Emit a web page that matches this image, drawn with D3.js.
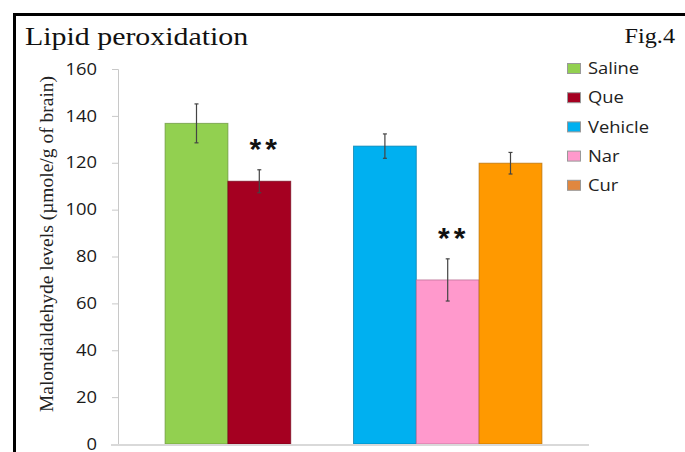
<!DOCTYPE html>
<html>
<head>
<meta charset="utf-8">
<script src="https://cdn.jsdelivr.net/npm/d3@7"></script>
<style>
  body { margin: 0; background: #fff; }
  svg { display: block; }
</style>
</head>
<body>
<div id="chart"></div>
<script>
// chart data
var groups = [["Saline", "Que"], ["Vehicle", "Nar", "Cur"]];
var seriesNames = ["Saline", "Que", "Vehicle", "Nar", "Cur"];
var means = [136.8, 112.1, 127.1, 70.0, 119.8];
var errors = [8.3, 4.9, 5.2, 9.0, 4.6];
var significant = [false, true, false, true, false];
var barColors = ["#92D050", "#A50021", "#00B0F0", "#FF99CC", "#FF9900"];
var legendColors = ["#92D050", "#A50021", "#00B0F0", "#FF99CC", "#E0873F"];
var yTicks = [0, 20, 40, 60, 80, 100, 120, 140, 160];

var svgWidth = 685;
var svgHeight = 452;

// plot area edges
var margin = { top: 69, right: 96, bottom: 8, left: 118 };
var width = svgWidth - margin.left - margin.right;
var height = svgHeight - margin.top - margin.bottom;

// text in the original is a bit wide, stretch it horizontally
var stretch = 1.15;

var svg = d3.select("#chart")
  .append("svg")
  .attr("width", svgWidth)
  .attr("height", svgHeight);

// frame (left and top edges only)
svg.append("path")
  .attr("d", "M14.5," + svgHeight + "V14.5H" + svgWidth)
  .attr("fill", "none")
  .attr("stroke", "#000")
  .attr("stroke-width", 3);

var chartGroup = svg.append("g")
  .attr("transform", `translate(${margin.left}, ${margin.top})`);

// slot per series, one empty slot between groups
var slots = [];
var slotCount = 0;
groups.forEach(function(g, gi) {
  if (gi > 0) slotCount++;
  g.forEach(function() { slots.push(slotCount); slotCount++; });
});

var data = seriesNames.map(function(name, i) {
  return { name: name, mean: means[i], err: errors[i], sig: significant[i],
           color: barColors[i], slot: slots[i] };
});

var xScale = d3.scaleBand()
  .domain(d3.range(slotCount))
  .range([0, width])
  .paddingInner(0)
  .paddingOuter(0.75);

var yScale = d3.scaleLinear()
  .domain([0, 160])
  .range([height, 0]);

// y axis
var leftAxis = d3.axisLeft(yScale)
  .tickValues(yTicks)
  .tickSize(6)
  .tickPadding(15);

var yAxis = chartGroup.append("g").call(leftAxis);
yAxis.select(".domain").attr("stroke", "#c8c8c8");
yAxis.selectAll(".tick line").attr("stroke", "#c8c8c8");
yAxis.selectAll(".tick text")
  .attr("font-family", "Open Sans")
  .attr("font-size", "16px")
  .attr("fill", "#1a1a1a")
  .attr("x", -21 / stretch)
  .attr("transform", `scale(${stretch},1)`);

// bars
chartGroup.selectAll("rect.bar")
  .data(data)
  .enter()
  .append("rect")
  .attr("class", "bar")
  .attr("x", d => xScale(d.slot))
  .attr("y", d => yScale(d.mean))
  .attr("width", xScale.bandwidth())
  .attr("height", d => height - yScale(d.mean))
  .attr("fill", d => d.color)
  .attr("stroke", d => d3.color(d.color).darker(1))
  .attr("stroke-opacity", 0.7)
  .attr("stroke-width", 1);

// x axis baseline
chartGroup.append("line")
  .attr("x1", -7)
  .attr("x2", width)
  .attr("y1", height + 1)
  .attr("y2", height + 1)
  .attr("stroke", "#d9d9d9")
  .attr("stroke-width", 2);

// error bars
var errGroup = chartGroup.selectAll("g.err")
  .data(data)
  .enter()
  .append("g")
  .attr("class", "err")
  .attr("transform", d => `translate(${xScale(d.slot) + xScale.bandwidth() / 2}, 0)`);

errGroup.append("line")
  .attr("y1", d => yScale(d.mean + d.err))
  .attr("y2", d => yScale(d.mean - d.err))
  .attr("stroke", "#444")
  .attr("stroke-width", 1.2);

errGroup.append("line")
  .attr("x1", -2).attr("x2", 2)
  .attr("y1", d => yScale(d.mean + d.err))
  .attr("y2", d => yScale(d.mean + d.err))
  .attr("stroke", "#444")
  .attr("stroke-width", 1.2);

errGroup.append("line")
  .attr("x1", -2).attr("x2", 2)
  .attr("y1", d => yScale(d.mean - d.err))
  .attr("y2", d => yScale(d.mean - d.err))
  .attr("stroke", "#444")
  .attr("stroke-width", 1.2);

// significance stars
chartGroup.selectAll("text.sig")
  .data(data.filter(d => d.sig))
  .enter()
  .append("text")
  .attr("class", "sig")
  .attr("x", d => xScale(d.slot) + xScale.bandwidth() / 2 + 6)
  .attr("y", d => yScale(d.mean + d.err) - 11)
  .attr("text-anchor", "middle")
  .attr("font-family", "Liberation Sans")
  .attr("font-weight", "bold")
  .attr("font-size", "30px")
  .attr("letter-spacing", "4px")
  .attr("fill", "#111")
  .text("**");

// y axis label
svg.append("text")
  .attr("transform", "translate(53, 244) rotate(-90)")
  .attr("text-anchor", "middle")
  .attr("font-family", "Liberation Serif")
  .attr("font-size", "19.5px")
  .attr("fill", "#222")
  .text("Malondialdehyde levels (\u00b5mole/g of brain)");

// title and figure number
svg.append("text")
  .attr("transform", `translate(25, 45) scale(${stretch},1)`)
  .attr("font-family", "Liberation Serif")
  .attr("font-size", "26px")
  .attr("fill", "#111")
  .text("Lipid peroxidation");

svg.append("text")
  .attr("transform", `translate(675, 43) scale(1.1,1)`)
  .attr("text-anchor", "end")
  .attr("font-family", "Liberation Serif")
  .attr("font-size", "22px")
  .attr("fill", "#111")
  .text("Fig.4");

// legend
var legend = svg.selectAll("g.legend")
  .data(seriesNames)
  .enter()
  .append("g")
  .attr("class", "legend")
  .attr("transform", (d, i) => `translate(567, ${68.5 + i * 29.2})`);

legend.append("rect")
  .attr("x", 0.5)
  .attr("y", -5)
  .attr("width", 13)
  .attr("height", 10)
  .attr("fill", (d, i) => legendColors[i])
  .attr("stroke", "#999")
  .attr("stroke-width", 1);

legend.append("text")
  .attr("transform", `translate(21, 0) scale(${stretch},1)`)
  .attr("dy", "0.35em")
  .attr("font-family", "Open Sans")
  .attr("font-size", "16px")
  .attr("fill", "#222")
  .text(d => d);
</script>
</body>
</html>
